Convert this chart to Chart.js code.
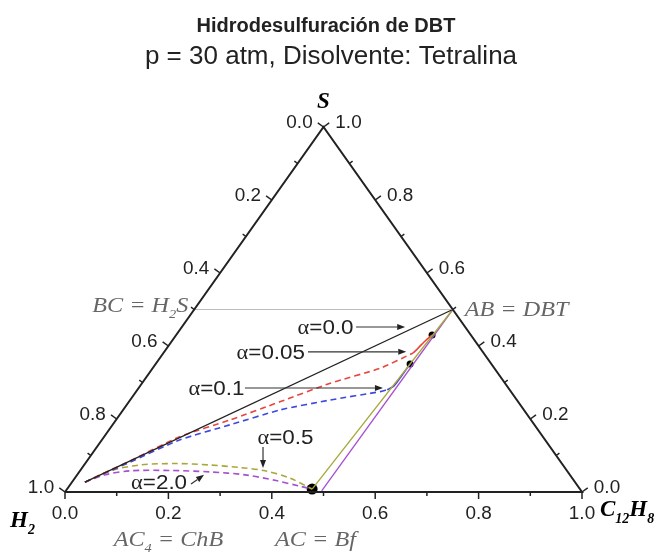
<!DOCTYPE html>
<html>
<head>
<meta charset="utf-8">
<script src="https://cdn.jsdelivr.net/npm/chart.js@4.4.1/dist/chart.umd.min.js"></script>
<style>
  body { margin: 0; background: #fff; }
</style>
</head>
<body>
<canvas id="ternChart" width="657" height="555"></canvas>
<script>
// compositions are [C12H8 fraction, S fraction]; H2 = 1 - C12H8 - S
const dbtPoint = [0.5, 0.5];
const h2sPoint = [0, 0.5];
const bfPoint = [0.474, 0.008];

const a00C = [0.025, 0.5];
const a00S = [0.027, 0.5];

const a005C = [0.025, 0.083, 0.147, 0.220, 0.292, 0.364, 0.440, 0.483];
const a005S = [0.027, 0.085, 0.152, 0.197, 0.247, 0.298, 0.339, 0.381];
const a005EndC = [0.483, 0.486, 0.489, 0.495];
const a005EndS = [0.381, 0.395, 0.411, 0.430];

const a01C = [0.025, 0.085, 0.151, 0.227, 0.304, 0.387, 0.472, 0.483];
const a01S = [0.027, 0.082, 0.143, 0.184, 0.225, 0.252, 0.275, 0.280];
const a01EndC = [0.483, 0.491, 0.492, 0.492];
const a01EndS = [0.280, 0.290, 0.312, 0.351];

const a05C = [0.025, 0.058, 0.108, 0.174, 0.243, 0.305, 0.358, 0.416, 0.474];
const a05S = [0.027, 0.058, 0.074, 0.078, 0.074, 0.067, 0.058, 0.038, 0.008];
const a05EndC = [0.474, 0.5];
const a05EndS = [0.008, 0.5];

const a20C = [0.025, 0.054, 0.097, 0.174, 0.253, 0.325, 0.390, 0.446, 0.474];
const a20S = [0.027, 0.047, 0.058, 0.059, 0.055, 0.047, 0.032, 0.016, 0.008];
const a20EndC = [0.495, 0.5];
const a20EndS = [0.003, 0.5];

// end-of-run markers
const dotC = [0.474, 0.495, 0.492];
const dotS = [0.008, 0.430, 0.351];
const dotR = [5.5, 3.5, 3.5];

const majorTicks = [0, 0.2, 0.4, 0.6, 0.8, 1.0];
const majorLabels = ['0.0', '0.2', '0.4', '0.6', '0.8', '1.0'];
const minorTicks = [0.1, 0.3, 0.5, 0.7, 0.9];

// alpha callouts, in plot coordinates (x across, y up)
const noteText = ['0.0', '0.05', '0.1', '0.5', '2.0'];
const noteAt = [[0.504, 0.452], [0.398, 0.384], [0.293, 0.285], [0.4265, 0.1515], [0.182, 0.028]];
const noteFrom = [[0.563, 0.452], [0.470, 0.384], [0.348, 0.285], [0.383, 0.123], [0.2437, 0.022]];
const noteTo = [[0.658, 0.452], [0.660, 0.384], [0.615, 0.285], [0.383, 0.066], [0.269, 0.047]];

const SANS = '"Liberation Sans", Arial, sans-serif';
const SERIF = '"Liberation Serif", "Times New Roman", serif';

const toXY = (c, s) => ({x: c + s / 2, y: s});
const series = (cs, ss) => cs.map((c, i) => toXY(c, ss[i]));

const line = (data, color, width, dash, tension) => ({
    data: data,
    showLine: true,
    borderColor: color,
    borderWidth: width,
    borderDash: dash || [],
    pointRadius: 0,
    fill: false,
    clip: false,
    tension: tension || 0
});

// text pieces may use their own font and vertical shift (subscripts)
function drawRich(ctx, parts, x, y, align, sx) {
    let w = 0;
    parts.forEach(p => { ctx.font = p[1]; w += ctx.measureText(p[0]).width * sx; });
    let cx = align === 'center' ? x - w / 2 : align === 'right' ? x - w : x;
    ctx.textAlign = 'left';
    ctx.textBaseline = 'alphabetic';
    parts.forEach(p => {
        ctx.font = p[1];
        ctx.save();
        ctx.translate(cx, y + (p[2] || 0));
        ctx.scale(sx, 1);
        ctx.fillText(p[0], 0, 0);
        ctx.restore();
        cx += ctx.measureText(p[0]).width * sx;
    });
}

function arrow(ctx, x0, y0, x1, y1) {
    const ang = Math.atan2(y1 - y0, x1 - x0);
    const hl = 8, hw = 3;
    ctx.beginPath();
    ctx.moveTo(x0, y0);
    ctx.lineTo(x1 - hl * Math.cos(ang), y1 - hl * Math.sin(ang));
    ctx.stroke();
    ctx.beginPath();
    ctx.moveTo(x1, y1);
    ctx.lineTo(x1 - hl * Math.cos(ang) + hw * Math.sin(ang), y1 - hl * Math.sin(ang) - hw * Math.cos(ang));
    ctx.lineTo(x1 - hl * Math.cos(ang) - hw * Math.sin(ang), y1 - hl * Math.sin(ang) + hw * Math.cos(ang));
    ctx.closePath();
    ctx.fill();
}

const ternaryAxes = {
    id: 'ternaryAxes',
    afterDatasetsDraw(chart) {
        const ctx = chart.ctx;
        const xs = chart.scales.x, ys = chart.scales.y;
        const px = p => [xs.getPixelForValue(p.x), ys.getPixelForValue(p.y)];
        const A = px(toXY(0, 0)), B = px(toXY(1, 0)), T = px(toXY(0, 1));

        // outward normals of the three edges
        const norm = (p, q, sign) => {
            const dx = q[0] - p[0], dy = q[1] - p[1], l = Math.hypot(dx, dy);
            return [sign * dy / l, -sign * dx / l];
        };
        const nLeft = norm(A, T, 1);
        const nRight = norm(B, T, -1);
        const nBottom = [0, 1];

        const edges = [
            {pt: v => px(toXY(v, 0)), n: nBottom},
            {pt: v => px(toXY(0, 1 - v)), n: nLeft},
            {pt: v => px(toXY(1 - v, v)), n: nRight}
        ];

        ctx.save();
        ctx.strokeStyle = '#222';
        ctx.lineWidth = 1.5;
        edges.forEach(e => {
            majorTicks.forEach(v => {
                const p = e.pt(v);
                ctx.beginPath();
                ctx.moveTo(p[0], p[1]);
                ctx.lineTo(p[0] + e.n[0] * 7, p[1] + e.n[1] * 7);
                ctx.stroke();
            });
            minorTicks.forEach(v => {
                const p = e.pt(v);
                ctx.beginPath();
                ctx.moveTo(p[0], p[1]);
                ctx.lineTo(p[0] + e.n[0] * 4, p[1] + e.n[1] * 4);
                ctx.stroke();
            });
        });

        // tick labels
        ctx.fillStyle = '#222';
        const tickFont = `18px ${SANS}`;
        majorTicks.forEach((v, i) => {
            let p = edges[0].pt(v);
            drawRich(ctx, [[majorLabels[i], tickFont]], p[0], p[1] + 27, 'center', 1.05);
            p = edges[1].pt(v);
            drawRich(ctx, [[majorLabels[i], tickFont]], p[0] - 24, p[1] + 1, 'center', 1.05);
            p = edges[2].pt(v);
            drawRich(ctx, [[majorLabels[i], tickFont]], p[0] + 25, p[1] + 1, 'center', 1.05);
        });

        // component names at the corners
        ctx.fillStyle = '#000';
        const bi = `bold italic 23px ${SERIF}`, biSub = `bold italic 14px ${SERIF}`;
        drawRich(ctx, [['S', bi]], T[0], T[1] - 19, 'center', 1.0);
        drawRich(ctx, [['H', bi], ['2', biSub, 7]], A[0] - 55, A[1] + 35, 'left', 1.0);
        drawRich(ctx, [['C', bi], ['12', biSub, 7], ['H', bi], ['8', biSub, 7]], B[0] + 18, B[1] + 24, 'left', 1.0);

        // species labels
        ctx.fillStyle = '#666';
        const it = `italic 22px ${SERIF}`, itSub = `italic 13px ${SERIF}`;
        let p = px(toXY(h2sPoint[0], h2sPoint[1]));
        drawRich(ctx, [['BC = H', it], ['2', itSub, 6], ['S', it]], p[0] - 6, p[1] + 2, 'right', 1.1);
        p = px(toXY(dbtPoint[0], dbtPoint[1]));
        drawRich(ctx, [['AB = DBT', it]], p[0] + 12, p[1] + 6, 'left', 1.1);
        p = px(toXY(0.2, 0));
        drawRich(ctx, [['AC', it], ['4', itSub, 6], [' = ChB', it]], p[0], p[1] + 54, 'center', 1.1);
        p = px(toXY(0.5, 0));
        drawRich(ctx, [['AC = Bf', it]], p[0] - 8, p[1] + 54, 'center', 1.1);

        // alpha callouts
        ctx.fillStyle = '#222';
        ctx.strokeStyle = '#333';
        ctx.lineWidth = 1.2;
        noteText.forEach((t, i) => {
            const c = px({x: noteAt[i][0], y: noteAt[i][1]});
            drawRich(ctx, [['\u03b1', `20px ${SERIF}`], ['=' + t, `20px ${SANS}`]], c[0], c[1] + 7, 'center', 1.12);
            const f = px({x: noteFrom[i][0], y: noteFrom[i][1]});
            const to = px({x: noteTo[i][0], y: noteTo[i][1]});
            arrow(ctx, f[0], f[1], to[0], to[1]);
        });

        // titles
        ctx.fillStyle = '#222';
        drawRich(ctx, [['Hidrodesulfuración de DBT', `bold 20px ${SANS}`]], 326, 32, 'center', 1.0);
        drawRich(ctx, [['p = 30 atm, Disolvente: Tetralina', `25px ${SANS}`]], 331, 64, 'center', 1.04);
        ctx.restore();
    }
};

new Chart(document.getElementById('ternChart').getContext('2d'), {
    type: 'scatter',
    data: {
        datasets: [
            line([toXY(0, 0), toXY(1, 0), toXY(0, 1), toXY(0, 0)], '#222', 2),
            line([toXY(h2sPoint[0], h2sPoint[1]), toXY(dbtPoint[0], dbtPoint[1])], '#bdbdbd', 1.2),
            line(series(a00C, a00S), '#222', 1.3),
            line(series(a05EndC, a05EndS), '#a8a83a', 1.3),
            line(series(a20EndC, a20EndS), '#a64fd0', 1.3),
            line(series(a005C, a005S), '#e8453c', 1.6, [6, 4], 0.2),
            line(series(a005EndC, a005EndS), '#e8453c', 1.6, [], 0.3),
            line(series(a01C, a01S), '#3c48e0', 1.6, [6, 4], 0.2),
            line(series(a01EndC, a01EndS), '#3c48e0', 1.6, [], 0.3),
            line(series(a05C, a05S), '#a8a83a', 1.6, [6, 4], 0.3),
            line(series(a20C, a20S), '#a64fd0', 1.6, [6, 4], 0.3),
            {
                data: series(dotC, dotS),
                showLine: false,
                pointRadius: dotR,
                pointBackgroundColor: '#000',
                pointBorderWidth: 0,
                clip: false
            }
        ]
    },
    options: {
        responsive: false,
        animation: false,
        devicePixelRatio: 1,
        layout: {padding: {left: 65, right: 75, top: 127, bottom: 63}},
        scales: {
            x: {type: 'linear', min: 0, max: 1, display: false},
            y: {type: 'linear', min: 0, max: 1, display: false}
        },
        plugins: {
            legend: {display: false},
            tooltip: {enabled: false}
        }
    },
    plugins: [ternaryAxes]
});
</script>
</body>
</html>
